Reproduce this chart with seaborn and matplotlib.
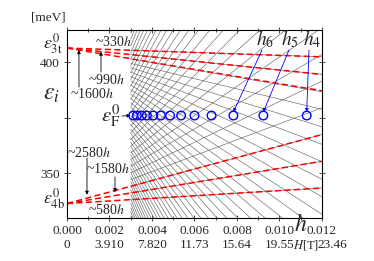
import matplotlib
matplotlib.use("Agg")
import matplotlib.pyplot as plt
import matplotlib.transforms as mtransforms
import numpy as np
import pandas as pd
import seaborn as sns

# band edges [meV]
eps_3t = 406.3
eps_4b = 336.5
eps_F = 376.0

# slopes of the lowest Landau levels (red dashed), meV per unit h
top_slopes = [330, 990, 1600]
bottom_slopes = [580, 1580, 2580]

# Landau fan (grey mesh): level spacing and offset of each family
top_spacing, top_offset = 655, 0.5
bottom_spacing, bottom_offset = 1000, 0.58
top_levels = list(range(0, 60))
bottom_levels = list(range(0, 40))
mesh_h = [0.003, 0.012]

# fields where levels cross the Fermi energy (blue circles)
h_cross = [0.00311, 0.00329, 0.00352, 0.00376, 0.00406, 0.00442, 0.00485,
           0.00537, 0.00600, 0.00680, 0.00783, 0.00924, 0.01128]

x_ticks = [0.000, 0.002, 0.004, 0.006, 0.008, 0.010, 0.012]
x_top_labels = ["0.000", "0.002", "0.004", "0.006", "0.008", "0.010", "0.012"]
x_bottom_labels = ["0", "3.910", "7.820", "11.73", "15.64", "19.55", "23.46"]

W, H = 374, 261


def P(x, y):
    return (x / W, 1 - y / H)


sns.set_style("ticks")
plt.rcParams["font.family"] = ["Liberation Serif", "DejaVu Serif"]
plt.rcParams["mathtext.fontset"] = "stix"

fig = plt.figure(figsize=(W / 100, H / 100), dpi=100)
ax = fig.add_axes([67 / W, 1 - 218 / H, (322 - 67) / W, (218 - 30) / H])

# grey Landau fan
rows = []
for n in top_levels:
    for h in mesh_h:
        rows.append(("t%d" % n, h, eps_3t - (n + top_offset) * top_spacing * h))
for n in bottom_levels:
    for h in mesh_h:
        rows.append(("b%d" % n, h, eps_4b + (n + bottom_offset) * bottom_spacing * h))
mesh = pd.DataFrame(rows, columns=["line", "h", "E"])
sns.lineplot(data=mesh, x="h", y="E", units="line", estimator=None, sort=False,
             color="0.4", linewidth=0.45, legend=False, ax=ax)

# red dashed lowest levels
rows = []
for s in top_slopes:
    for h in [0.0, 0.012]:
        rows.append(("t%d" % s, h, eps_3t - s * h))
for s in bottom_slopes:
    for h in [0.0, 0.012]:
        rows.append(("b%d" % s, h, eps_4b + s * h))
red = pd.DataFrame(rows, columns=["line", "h", "E"])
sns.lineplot(data=red, x="h", y="E", units="line", estimator=None, sort=False,
             color="red", linewidth=1.1, linestyle=(0, (4, 2.2)),
             legend=False, ax=ax)

# blue circles at the Fermi level
sns.scatterplot(x=h_cross, y=[eps_F] * len(h_cross), marker="o", s=38,
                facecolor="none", edgecolor="blue", linewidth=1.0, ax=ax,
                zorder=5)

ax.set_xlim(0, 0.012)
ax.set_ylim(330, 414.4)
ax.set_xticks(x_ticks)
ax.set_xticks(np.arange(0.001, 0.012, 0.002), minor=True)
ax.set_xticklabels(x_top_labels, fontsize=9.5)
ax.set_yticks([350, 375, 400])
ax.set_yticklabels(["350", "", "400"], fontsize=9.5)
ax.tick_params(which="both", direction="inout", top=True, right=True,
               length=4, width=0.6, pad=3)
ax.tick_params(which="minor", length=3)
ax.set_xlabel("")
ax.set_ylabel("")
for sp in ax.spines.values():
    sp.set_linewidth(0.8)
    sp.set_color("black")

# second row of x labels: field in tesla
trans = mtransforms.blended_transform_factory(ax.transData, fig.transFigure)
for i, (xv, lab) in enumerate(zip(x_ticks, x_bottom_labels)):
    dx = 0.00048 if i == len(x_ticks) - 1 else 0.0
    ax.text(xv + dx, 1 - 245 / H, lab, transform=trans, ha="center",
            va="center", fontsize=9.5)

# texts
fig.text(*P(48, 17), "[meV]", ha="center", va="center", fontsize=9.5)
fig.text(*P(53, 44), r"$\varepsilon^{0}_{\mathrm{3t}}$", ha="center", va="center", fontsize=13)
fig.text(*P(51, 95), r"$\varepsilon_{i}$", ha="center", va="center", fontsize=17)
fig.text(*P(54, 199), r"$\varepsilon^{0}_{\mathrm{4b}}$", ha="center", va="center", fontsize=13)
fig.text(*P(111, 116), r"$\varepsilon^{0}_{\mathrm{F}}$", ha="center", va="center", fontsize=15)
ax.annotate("", xy=(0.0030, eps_F), xycoords="data", xytext=P(122, 116),
            textcoords="figure fraction",
            arrowprops=dict(arrowstyle="-|>", color="black", lw=0.6,
                            mutation_scale=5, shrinkA=0, shrinkB=0))

fig.text(*P(113, 42), r"~330$h$", ha="center", va="center", fontsize=10)
fig.text(*P(106, 80), r"~990$h$", ha="center", va="center", fontsize=10)
fig.text(*P(92, 94), r"~1600$h$", ha="center", va="center", fontsize=10)
fig.text(*P(89, 153), r"~2580$h$", ha="center", va="center", fontsize=10)
fig.text(*P(108, 169), r"~1580$h$", ha="center", va="center", fontsize=10)
fig.text(*P(106, 210), r"~580$h$", ha="center", va="center", fontsize=10)

arrow_kw = dict(arrowstyle="-|>", color="black", lw=0.6, mutation_scale=5,
                shrinkA=0, shrinkB=0)
for xt, yt, h, E in [(101, 72, 0.00160, eps_3t - 990 * 0.00160),
                     (79, 87, 0.00056, eps_3t - 1600 * 0.00056),
                     (87, 158, 0.00094, eps_4b + 2580 * 0.00094 + 1.5),
                     (115, 177, 0.00226, eps_4b + 1580 * 0.00226 + 1.5)]:
    ax.annotate("", xy=(h, E), xycoords="data", xytext=P(xt, yt),
                textcoords="figure fraction", arrowprops=arrow_kw)

# h_n labels with blue arrows
for lab, lx, ly, tx, hc in [(r"$h_{6}$", 265, 39, 262, 0.00783),
                            (r"$h_{5}$", 290, 39, 289, 0.00924),
                            (r"$h_{4}$", 312, 39, 309, 0.01128)]:
    fig.text(*P(lx, ly), lab, ha="center", va="center", fontsize=14)
    ax.annotate("", xy=(hc, eps_F + 1.6), xycoords="data", xytext=P(tx, 50),
                textcoords="figure fraction",
                arrowprops=dict(arrowstyle="-|>", color="blue", lw=0.6,
                                mutation_scale=5, shrinkA=0, shrinkB=0))

fig.text(*P(301, 225), r"$h$", ha="center", va="center", fontsize=17)
fig.text(*P(306.5, 245), r"$H$[T]", ha="center", va="center", fontsize=9)

fig.savefig("out.png", dpi=100)
